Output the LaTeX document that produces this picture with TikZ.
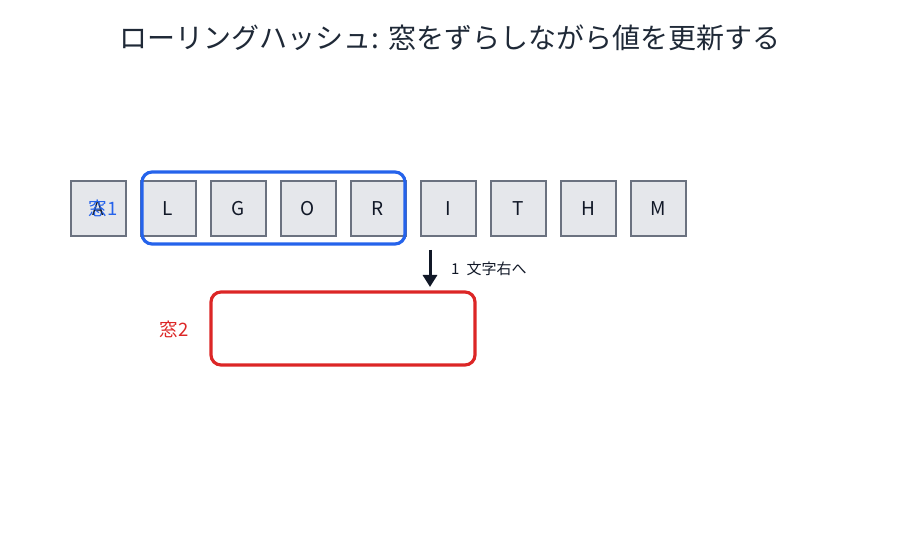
\documentclass[tikz,border=0pt]{standalone}
\usepackage{fontspec}
\setmainfont{Noto Sans CJK JP}
\usetikzlibrary{arrows.meta}
\definecolor{cellfill}{HTML}{E5E7EB}
\definecolor{cellline}{HTML}{6B7280}
\definecolor{winblue}{HTML}{2563EB}
\definecolor{winred}{HTML}{DC2626}
\definecolor{darkink}{HTML}{111827}
\definecolor{titleink}{HTML}{1F2937}
\begin{document}
\begin{tikzpicture}[x=1pt,y=-1pt,
  cell/.style={draw=cellline,fill=cellfill,line width=2pt,minimum width=55pt,minimum height=55pt,inner sep=0pt,font=\fontsize{19}{21}\selectfont,text=darkink},
  win/.style={rounded corners=10pt,line width=3.2pt},
  lbl/.style={font=\fontsize{18.5}{20}\selectfont,inner sep=0pt}]
\path[use as bounding box] (0,0) rectangle (900,540);
\node[font=\fontsize{28}{30}\selectfont,text=titleink,inner sep=0pt] (title) at (450,38) {ローリングハッシュ: 窓をずらしながら値を更新する};
\foreach \c [count=\i from 0] in {A,L,G,O,R,I,T,H,M}
  \node[cell] (c\i) at (98+70*\i,208.5) {\c};
\draw[win,draw=winblue] (142,172) rectangle (405,244);
\node[lbl,text=winblue] (w1) at (103,208) {窓1};
\coordinate (as) at (430,250);
\coordinate (ae) at (430,287);
\draw[darkink,line width=3pt,-{Triangle[length=12pt,width=14pt]}] (as) -- (ae);
\node[anchor=west,font=\fontsize{15}{17}\selectfont,text=darkink,inner sep=0pt] (shift) at (451,269) {1\hspace{7pt}文字右へ};
\draw[win,draw=winred] (211,292) rectangle (475,365);
\node[lbl,text=winred] (w2) at (174,329) {窓2};
\end{tikzpicture}
\end{document}
